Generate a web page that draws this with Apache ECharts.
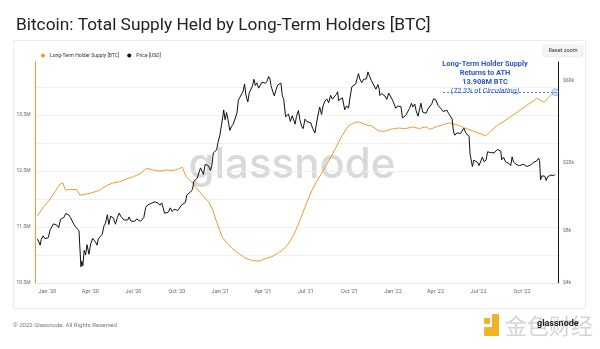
<!DOCTYPE html>
<html>
<head>
<meta charset="utf-8">
<script src="https://cdn.jsdelivr.net/npm/echarts@6/dist/echarts.min.js"></script>
<style>
  html, body { margin: 0; padding: 0; background: #fff; }
  #chart { width: 600px; height: 349px; }
</style>
</head>
<body>
<div id="chart"></div>
<script>
// Long-term holder supply, millions of BTC
const lthSupply = [
  ['2019-12-11', 11.70], ['2019-12-24', 11.86], ['2020-01-07', 12.00], ['2020-01-18', 12.14],
  ['2020-01-27', 12.26], ['2020-02-03', 12.29], ['2020-02-08', 12.16], ['2020-02-20', 12.17],
  ['2020-03-03', 12.17], ['2020-03-10', 12.07], ['2020-03-24', 12.09], ['2020-04-07', 12.12],
  ['2020-04-21', 12.16], ['2020-05-05', 12.24], ['2020-05-19', 12.29], ['2020-06-02', 12.31],
  ['2020-06-17', 12.36], ['2020-07-01', 12.40], ['2020-07-15', 12.45], ['2020-07-29', 12.55],
  ['2020-08-12', 12.52], ['2020-08-25', 12.50], ['2020-09-08', 12.52], ['2020-09-22', 12.51],
  ['2020-10-05', 12.54], ['2020-10-12', 12.57], ['2020-10-21', 12.40], ['2020-10-28', 12.34],
  ['2020-11-04', 12.28], ['2020-11-11', 12.20], ['2020-11-25', 12.06], ['2020-12-08', 11.94],
  ['2020-12-16', 11.80], ['2020-12-23', 11.62], ['2020-12-30', 11.45], ['2021-01-05', 11.32],
  ['2021-01-16', 11.20], ['2021-01-26', 11.12], ['2021-02-10', 11.02], ['2021-02-24', 10.94],
  ['2021-03-10', 10.90], ['2021-03-24', 10.89], ['2021-04-07', 10.94], ['2021-04-20', 10.97],
  ['2021-05-04', 11.04], ['2021-05-14', 11.10], ['2021-05-25', 11.20], ['2021-06-05', 11.36],
  ['2021-06-16', 11.57], ['2021-06-30', 11.88], ['2021-07-13', 12.15], ['2021-07-24', 12.32],
  ['2021-08-03', 12.46], ['2021-08-18', 12.68], ['2021-09-01', 12.90], ['2021-09-15', 13.13],
  ['2021-09-29', 13.31], ['2021-10-12', 13.37], ['2021-10-22', 13.38], ['2021-11-03', 13.33],
  ['2021-11-16', 13.31], ['2021-12-01', 13.22], ['2021-12-14', 13.21], ['2021-12-28', 13.25],
  ['2022-01-12', 13.27], ['2022-01-28', 13.26], ['2022-02-12', 13.29], ['2022-02-26', 13.26],
  ['2022-03-10', 13.29], ['2022-03-22', 13.25], ['2022-04-05', 13.30], ['2022-04-20', 13.34],
  ['2022-05-01', 13.36], ['2022-05-10', 13.34], ['2022-05-20', 13.32], ['2022-06-02', 13.27],
  ['2022-06-18', 13.22], ['2022-07-01', 13.18], ['2022-07-16', 13.13], ['2022-07-28', 13.22],
  ['2022-08-10', 13.32], ['2022-08-31', 13.43], ['2022-09-15', 13.52], ['2022-09-30', 13.61],
  ['2022-10-15', 13.70], ['2022-11-02', 13.80], ['2022-11-10', 13.76], ['2022-11-17', 13.73],
  ['2022-11-24', 13.80], ['2022-12-02', 13.87], ['2022-12-10', 13.908]
];

// Bitcoin price, USD
const btcPrice = [
  ['2019-12-11', 7220], ['2019-12-14', 7080], ['2019-12-17', 6640], ['2019-12-19', 7150],
  ['2019-12-23', 7520], ['2019-12-27', 7240], ['2019-12-31', 7190], ['2020-01-03', 7340],
  ['2020-01-07', 8160], ['2020-01-10', 8020], ['2020-01-14', 8830], ['2020-01-18', 8900],
  ['2020-01-22', 8650], ['2020-01-25', 8390], ['2020-01-29', 9390], ['2020-02-01', 9380],
  ['2020-02-05', 9620], ['2020-02-09', 10150], ['2020-02-13', 10240], ['2020-02-16', 9920],
  ['2020-02-19', 9600], ['2020-02-22', 9690], ['2020-02-26', 8790], ['2020-02-29', 8540],
  ['2020-03-04', 8760], ['2020-03-08', 8040], ['2020-03-10', 7900], ['2020-03-12', 4970],
  ['2020-03-14', 5360], ['2020-03-16', 5030], ['2020-03-19', 6190], ['2020-03-22', 5830],
  ['2020-03-25', 6680], ['2020-03-29', 5880], ['2020-04-02', 6800], ['2020-04-06', 7270],
  ['2020-04-09', 7300], ['2020-04-12', 6910], ['2020-04-15', 6640], ['2020-04-18', 7250],
  ['2020-04-22', 7130], ['2020-04-26', 7680], ['2020-04-30', 8620], ['2020-05-03', 8910],
  ['2020-05-07', 9980], ['2020-05-10', 8760], ['2020-05-14', 9790], ['2020-05-17', 9670],
  ['2020-05-20', 9520], ['2020-05-24', 8790], ['2020-05-28', 9580], ['2020-06-01', 10200],
  ['2020-06-04', 9800], ['2020-06-08', 9760], ['2020-06-11', 9300], ['2020-06-15', 9430],
  ['2020-06-19', 9300], ['2020-06-22', 9690], ['2020-06-26', 9160], ['2020-06-30', 9190],
  ['2020-07-04', 9140], ['2020-07-08', 9430], ['2020-07-12', 9270], ['2020-07-16', 9130],
  ['2020-07-20', 9160], ['2020-07-23', 9600], ['2020-07-27', 11000], ['2020-07-31', 11350],
  ['2020-08-03', 11230], ['2020-08-07', 11600], ['2020-08-11', 11400], ['2020-08-15', 11850],
  ['2020-08-18', 11980], ['2020-08-22', 11680], ['2020-08-26', 11330], ['2020-08-30', 11700],
  ['2020-09-02', 11400], ['2020-09-05', 10170], ['2020-09-09', 10240], ['2020-09-13', 10330],
  ['2020-09-17', 10940], ['2020-09-21', 10420], ['2020-09-25', 10740], ['2020-09-29', 10840],
  ['2020-10-03', 10560], ['2020-10-07', 10670], ['2020-10-11', 11380], ['2020-10-15', 11500],
  ['2020-10-19', 11750], ['2020-10-22', 12990], ['2020-10-26', 13030], ['2020-10-30', 13550],
  ['2020-11-03', 14000], ['2020-11-06', 15590], ['2020-11-10', 15320], ['2020-11-13', 16300],
  ['2020-11-17', 17650], ['2020-11-20', 18680], ['2020-11-24', 19160], ['2020-11-26', 17150],
  ['2020-11-30', 19630], ['2020-12-03', 19440], ['2020-12-07', 19170], ['2020-12-11', 18040],
  ['2020-12-14', 19270], ['2020-12-17', 22800], ['2020-12-21', 22720], ['2020-12-24', 23730],
  ['2020-12-27', 26270], ['2020-12-31', 29000], ['2021-01-03', 32780], ['2021-01-06', 36770],
  ['2021-01-08', 40580], ['2021-01-11', 35570], ['2021-01-14', 39190], ['2021-01-17', 35830],
  ['2021-01-21', 30850], ['2021-01-24', 32290], ['2021-01-28', 33470], ['2021-02-01', 33540],
  ['2021-02-05', 38900], ['2021-02-08', 46200], ['2021-02-11', 47910], ['2021-02-15', 47940],
  ['2021-02-18', 52120], ['2021-02-21', 57490], ['2021-02-24', 49700], ['2021-02-28', 45140],
  ['2021-03-03', 50970], ['2021-03-07', 51200], ['2021-03-10', 55970], ['2021-03-13', 61190],
  ['2021-03-16', 56300], ['2021-03-19', 58350], ['2021-03-23', 54340], ['2021-03-26', 55030],
  ['2021-03-30', 58800], ['2021-04-02', 59000], ['2021-04-06', 58000], ['2021-04-10', 59800],
  ['2021-04-13', 63500], ['2021-04-16', 61400], ['2021-04-18', 56200], ['2021-04-22', 51700],
  ['2021-04-25', 49000], ['2021-04-29', 53500], ['2021-05-02', 56600], ['2021-05-06', 56400],
  ['2021-05-09', 58200], ['2021-05-12', 49150], ['2021-05-15', 46760], ['2021-05-19', 37000],
  ['2021-05-22', 37530], ['2021-05-25', 38400], ['2021-05-29', 34770], ['2021-06-02', 37570],
  ['2021-06-05', 35520], ['2021-06-08', 33560], ['2021-06-11', 37340], ['2021-06-15', 40210],
  ['2021-06-18', 35800], ['2021-06-22', 32500], ['2021-06-25', 31600], ['2021-06-29', 35900],
  ['2021-07-03', 34690], ['2021-07-07', 33800], ['2021-07-11', 34240], ['2021-07-15', 31800],
  ['2021-07-20', 29790], ['2021-07-23', 33580], ['2021-07-26', 37270], ['2021-07-30', 42200],
  ['2021-08-03', 38150], ['2021-08-06', 42820], ['2021-08-10', 45590], ['2021-08-14', 47050],
  ['2021-08-18', 44700], ['2021-08-22', 49300], ['2021-08-26', 46860], ['2021-08-30', 46990],
  ['2021-09-03', 49920], ['2021-09-06', 51750], ['2021-09-08', 46060], ['2021-09-12', 46010],
  ['2021-09-16', 47700], ['2021-09-21', 40690], ['2021-09-25', 42840], ['2021-09-29', 41530],
  ['2021-10-02', 47600], ['2021-10-06', 55300], ['2021-10-10', 54770], ['2021-10-14', 57400],
  ['2021-10-17', 61530], ['2021-10-20', 65990], ['2021-10-23', 61310], ['2021-10-27', 58480],
  ['2021-10-31', 61300], ['2021-11-03', 62940], ['2021-11-06', 61460], ['2021-11-09', 67550],
  ['2021-11-12', 64160], ['2021-11-16', 60370], ['2021-11-19', 58120], ['2021-11-23', 57540],
  ['2021-11-26', 53570], ['2021-11-30', 57000], ['2021-12-03', 53600], ['2021-12-04', 49200],
  ['2021-12-08', 50550], ['2021-12-12', 50100], ['2021-12-15', 48880], ['2021-12-19', 46690],
  ['2021-12-23', 50800], ['2021-12-27', 50640], ['2021-12-31', 46310], ['2022-01-04', 45900],
  ['2022-01-07', 41550], ['2022-01-11', 42740], ['2022-01-14', 43100], ['2022-01-18', 42370],
  ['2022-01-21', 36470], ['2022-01-24', 36650], ['2022-01-28', 37720], ['2022-02-01', 38720],
  ['2022-02-05', 41410], ['2022-02-09', 44380], ['2022-02-12', 42200], ['2022-02-16', 43960],
  ['2022-02-19', 40090], ['2022-02-23', 37300], ['2022-02-27', 37710], ['2022-03-01', 44420],
  ['2022-03-05', 39400], ['2022-03-08', 38740], ['2022-03-12', 38800], ['2022-03-16', 41140],
  ['2022-03-20', 41300], ['2022-03-24', 43990], ['2022-03-28', 47120], ['2022-04-02', 46300],
  ['2022-04-06', 43210], ['2022-04-10', 42250], ['2022-04-13', 41150], ['2022-04-17', 39740],
  ['2022-04-21', 40480], ['2022-04-25', 40430], ['2022-04-29', 38600], ['2022-05-03', 37720],
  ['2022-05-06', 36010], ['2022-05-09', 30300], ['2022-05-12', 28940], ['2022-05-16', 29830],
  ['2022-05-20', 29200], ['2022-05-24', 29640], ['2022-05-28', 29020], ['2022-05-31', 31790],
  ['2022-06-04', 29860], ['2022-06-08', 30110], ['2022-06-11', 28380], ['2022-06-13', 22480],
  ['2022-06-15', 22570], ['2022-06-18', 19010], ['2022-06-21', 20700], ['2022-06-25', 21230],
  ['2022-06-29', 20100], ['2022-07-02', 19270], ['2022-07-06', 20550], ['2022-07-09', 21590],
  ['2022-07-13', 20250], ['2022-07-17', 20800], ['2022-07-20', 23160], ['2022-07-24', 22580],
  ['2022-07-27', 22930], ['2022-07-31', 23290], ['2022-08-03', 22820], ['2022-08-07', 23170],
  ['2022-08-10', 23950], ['2022-08-14', 24300], ['2022-08-17', 23340], ['2022-08-19', 20830],
  ['2022-08-23', 21520], ['2022-08-27', 20260], ['2022-08-31', 20050], ['2022-09-03', 19830],
  ['2022-09-07', 19280], ['2022-09-10', 21650], ['2022-09-13', 20200], ['2022-09-16', 19740],
  ['2022-09-19', 19540], ['2022-09-22', 19400], ['2022-09-26', 19220], ['2022-09-29', 19590],
  ['2022-10-03', 19620], ['2022-10-07', 19530], ['2022-10-11', 19060], ['2022-10-14', 19190],
  ['2022-10-18', 19330], ['2022-10-21', 19170], ['2022-10-25', 20090], ['2022-10-29', 20620],
  ['2022-11-01', 20490], ['2022-11-05', 21300], ['2022-11-07', 20600], ['2022-11-08', 18540],
  ['2022-11-09', 15880], ['2022-11-12', 16800], ['2022-11-15', 16900], ['2022-11-18', 16700],
  ['2022-11-21', 15780], ['2022-11-24', 16600], ['2022-11-28', 16220], ['2022-12-01', 16970],
  ['2022-12-04', 17100], ['2022-12-07', 16840], ['2022-12-10', 17130]
];

// Axis ticks
const quarterTicks = ['2020-01-01', '2020-04-01', '2020-07-01', '2020-10-01', '2021-01-01', '2021-04-01',
  '2021-07-01', '2021-10-01', '2022-01-01', '2022-04-01', '2022-07-01', '2022-10-01'];
const priceTicks = [60000, 20000, 8000, 4000];

// ATH annotation
const athValue = 13.908;
const athDate = '2022-12-10';
const athLineStart = '2022-04-17';
const athText = ['Long-Term Holder Supply', 'Returns to ATH', '13.908M BTC', '(72.3% of Circulating)'];

const FONT = 'Roboto, "Noto Sans", sans-serif';
const MONTHS = ['Jan', 'Feb', 'Mar', 'Apr', 'May', 'Jun', 'Jul', 'Aug', 'Sep', 'Oct', 'Nov', 'Dec'];
const ORANGE = '#f29a2e';
const BLUE = '#2a55cc';

const chart = echarts.init(document.getElementById('chart'));

function supplyLabel(v) {
  const h = v * 2;
  if (Math.abs(h - Math.round(h)) > 1e-6) return '';
  return Math.round(h) % 2 === 1 ? v.toFixed(1) + 'M' : '';
}

function quarterLabel(s) {
  const [y, m] = s.split('-');
  return MONTHS[+m - 1] + " '" + y.slice(2);
}

const baseGraphics = [
  { id: 'frame', type: 'rect', z: -10, shape: { x: 13.5, y: 40.5, width: 572, height: 268 },
    style: { fill: 'none', stroke: '#ebebeb', lineWidth: 1 } },
  { id: 'reset', type: 'rect', shape: { x: 543, y: 45, width: 40, height: 12, r: 2 },
    style: { fill: '#f4f4f4', stroke: '#e4e4e4', lineWidth: 0.5 } },
  { id: 'resetText', type: 'text', x: 563, y: 51,
    style: { text: 'Reset zoom', fontSize: 5.5, fill: '#333', align: 'center', verticalAlign: 'middle', fontFamily: FONT } },
  { id: 'wm', type: 'text', x: 292, y: 165, z: -5,
    style: { text: 'glassnode', fontSize: 42, fontWeight: 500, fill: '#d9d9d9', align: 'center', verticalAlign: 'middle', fontFamily: 'Inter, Roboto, sans-serif' } },
  { id: 'foot', type: 'text', x: 13, y: 325,
    style: { text: '© 2022 Glassnode. All Rights Reserved.', fontSize: 6, fill: '#777', verticalAlign: 'middle', fontFamily: FONT } },
  { id: 'logoA', type: 'rect', shape: { x: 484, y: 318, width: 6, height: 6, r: 1 }, style: { fill: '#f0b323' } },
  { id: 'logoB', type: 'rect', shape: { x: 492, y: 314, width: 7, height: 22, r: 1 }, style: { fill: '#f0b323' } },
  { id: 'logoC', type: 'rect', shape: { x: 484, y: 327, width: 15, height: 9, r: 1 }, style: { fill: '#f0b323' } },
  { id: 'logoText', type: 'text', x: 505, y: 326,
    style: { text: '金色财经', fontSize: 22, fill: '#d4d4d4', verticalAlign: 'middle', fontFamily: '"Noto Sans CJK SC", sans-serif' } },
  { id: 'logoGn', type: 'text', x: 537, y: 324,
    style: { text: 'glassnode', fontSize: 9, fontWeight: 'bold', fill: '#222', verticalAlign: 'middle', fontFamily: FONT } }
];

athText.forEach((t, i) => {
  baseGraphics.push({
    id: 'ath' + i, type: 'text', x: 485, y: 64.5 + i * 9,
    style: { text: t, fontSize: 7.4, fontWeight: i < 3 ? 'bold' : 'normal', fontStyle: i === 3 ? 'italic' : 'normal',
      fill: BLUE, align: 'center', verticalAlign: 'middle', fontFamily: FONT }
  });
});

const option = {
  backgroundColor: '#fff',
  animation: false,
  textStyle: { fontFamily: FONT },
  title: {
    text: 'Bitcoin: Total Supply Held by Long-Term Holders [BTC]',
    left: 11, top: 12,
    textStyle: { fontSize: 17.3, fontWeight: 'normal', color: '#222', fontFamily: FONT }
  },
  legend: {
    left: 36, top: 48, itemWidth: 4, itemHeight: 4, itemGap: 8, icon: 'circle',
    textStyle: { fontSize: 5, color: '#333' },
    data: ['Long-Term Holder Supply [BTC]', 'Price [USD]']
  },
  grid: { left: 35.5, right: 42, top: 62, bottom: 66 },
  xAxis: {
    type: 'time',
    min: '2019-12-07', max: '2022-12-16',
    axisLine: { show: true, lineStyle: { color: '#e6e6e6' } },
    axisTick: { show: false },
    splitLine: { show: false },
    axisLabel: { show: false }
  },
  yAxis: [
    {
      type: 'value', position: 'left', min: 10.5, max: 14.45, interval: 0.5,
      axisLine: { show: true, lineStyle: { color: ORANGE, width: 1 } },
      axisTick: { show: false },
      axisLabel: { formatter: supplyLabel, fontSize: 5, color: '#666', margin: 5, showMaxLabel: false },
      splitLine: { show: true, showMaxLine: false, lineStyle: { color: '#efefef', width: 0.8 } }
    },
    {
      type: 'log', position: 'right', min: 4000, max: 77100,
      axisLine: { show: true, onZero: false, lineStyle: { color: '#111', width: 1 } },
      axisTick: { show: false },
      axisLabel: { show: false },
      splitLine: { show: false }
    }
  ],
  series: [
    {
      name: 'Long-Term Holder Supply [BTC]', type: 'line', yAxisIndex: 0,
      data: lthSupply, showSymbol: false, smooth: false,
      color: ORANGE, lineStyle: { width: 1, color: ORANGE }, z: 2,
      markLine: {
        silent: true, symbol: 'none',
        lineStyle: { type: [2, 2], color: BLUE, width: 0.8 },
        label: { show: false },
        data: [[{ coord: [athLineStart, athValue] }, { coord: ['2022-12-16', athValue] }]]
      },
      markPoint: {
        silent: true, symbol: 'circle', symbolSize: 7,
        itemStyle: { color: 'rgba(140,170,235,0.35)', borderColor: BLUE, borderWidth: 0.7, borderType: [1.5, 1] },
        label: { show: false },
        data: [{ coord: [athDate, athValue] }]
      }
    },
    {
      name: 'Price [USD]', type: 'line', yAxisIndex: 1,
      data: btcPrice, showSymbol: false,
      color: '#111', lineStyle: { width: 1, color: '#111' }, z: 3
    }
  ],
  graphic: baseGraphics
};

chart.setOption(option);

// Tick labels placed at the axes' own pixel positions
const priceLabels = priceTicks.map((v, i) => ({
  id: 'pt' + i, type: 'text', x: 563,
  y: chart.convertToPixel({ yAxisIndex: 1 }, v),
  style: { text: '$' + (v / 1000) + 'k', fontSize: 5, fill: '#666', verticalAlign: 'middle', fontFamily: FONT }
}));
const dateLabels = quarterTicks.map((d, i) => ({
  id: 'qt' + i, type: 'text',
  x: chart.convertToPixel({ xAxisIndex: 0 }, d), y: 292,
  style: { text: quarterLabel(d), fontSize: 5.5, fill: '#666', align: 'center', verticalAlign: 'middle', fontFamily: FONT }
}));
chart.setOption({ graphic: baseGraphics.concat(priceLabels, dateLabels) });
</script>
</body>
</html>
